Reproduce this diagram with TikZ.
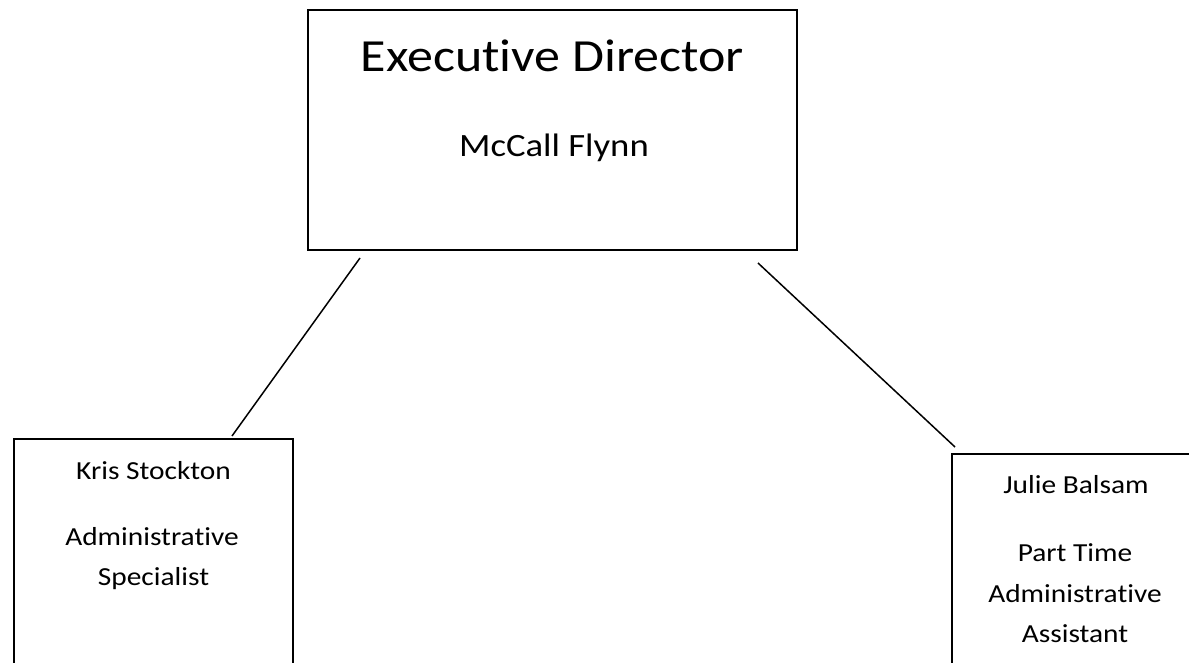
\documentclass[tikz,border=0pt]{standalone}
\usepackage{fontspec}
\setmainfont{Carlito}[FakeStretch=1.13,Ligatures=NoCommon]
\begin{document}
\begin{tikzpicture}[x=1pt,y=-1pt,
  box/.style={draw=black,line width=1.8pt,rectangle,inner sep=0pt},
  conn/.style={draw=black,line width=1.5pt},
  txt/.style={anchor=base,inner sep=0pt,text=black},
  small/.style={txt,font=\fontsize{26}{30}\selectfont}]
\useasboundingbox (0,0) rectangle (1189,663);
\clip (0,0) rectangle (1189,663);
% boxes
\node[box,minimum width=489pt,minimum height=240pt] (ed) at (552.5,130) {};
\node[box,minimum width=279pt,minimum height=260pt] (ks) at (153.5,569) {};
\node[box,minimum width=260pt,minimum height=250pt] (jb) at (1082,579) {};
% texts
\node[txt,font=\fontsize{46}{50}\selectfont] (t1) at (552.5,72) {Executive Director};
\node[txt,font=\fontsize{32.5}{36}\selectfont] (t2) at (554,157) {McCall Flynn};
\node[small] (k1) at (153.5,479) {Kris Stockton};
\node[small] (k2) at (152,545) {Administrative};
\node[small] (k3) at (153.5,585) {Specialist};
\node[small] (j1) at (1076,493) {Julie Balsam};
\node[small] (j2) at (1075,561) {Part Time};
\node[small] (j3) at (1075,602) {Administrative};
\node[small] (j4) at (1075,642) {Assistant};
% connector ends
\coordinate (a1) at (360,258);
\coordinate (a2) at (232,436);
\coordinate (b1) at (758,263);
\coordinate (b2) at (955,447);
\draw[conn] (a1) -- (a2);
\draw[conn] (b1) -- (b2);
\end{tikzpicture}
\end{document}
